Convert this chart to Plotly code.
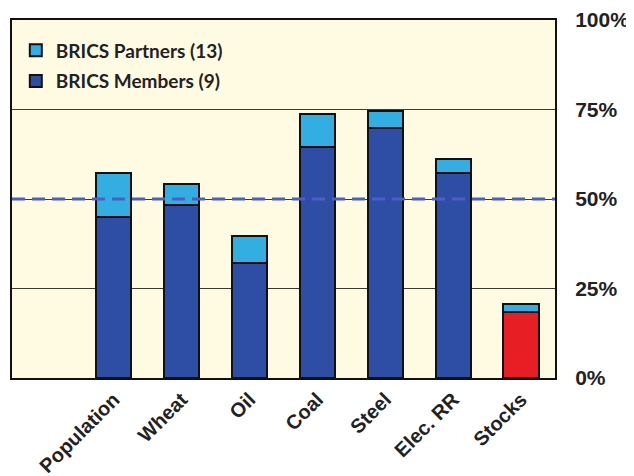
import plotly.graph_objects as go

categories = [" ", "Population", "Wheat", "Oil", "Coal", "Steel", "Elec. RR", "Stocks"]
members = [None, 45, 48.3, 32.2, 64.6, 69.7, 57.3, 18.4]
partners = [None, 12.2, 5.9, 7.5, 9.1, 4.9, 3.8, 2.3]
member_colors = ["#2E4EA6"] * 7 + ["#E81E25"]
tick_vals = [0, 25, 50, 75, 100]
tick_text = ["0%", "25%", "50%", "75%", "100%"]
reference_line = 50

fig = go.Figure()
fig.add_trace(go.Bar(
    x=categories, y=members, name="BRICS Members (9)",
    marker=dict(color=member_colors, line=dict(color="#111111", width=2)),
    legendgroup="m", legendrank=2,
))
fig.add_trace(go.Bar(
    x=categories, y=partners, name="BRICS Partners (13)",
    marker=dict(color="#33AEE3", line=dict(color="#111111", width=2)),
    legendgroup="p", legendrank=1,
))

fig.add_shape(type="line", xref="paper", x0=0, x1=1, yref="y",
              y0=reference_line, y1=reference_line,
              line=dict(color="#4C5FC6", width=3, dash="13px,7px"), layer="above")

# page body has an 8px margin, so the figure is sized to fit 634x476 window
fig.update_layout(
    width=626, height=468,
    margin=dict(l=4, r=79, t=12, b=98),
    barmode="stack", bargap=0.48,
    paper_bgcolor="white", plot_bgcolor="#FFFBE2",
    showlegend=True,
    legend=dict(x=0.007, y=0.968, xanchor="left", yanchor="top",
                bgcolor="rgba(0,0,0,0)", traceorder="grouped",
                tracegroupgap=3, itemwidth=30,
                font=dict(family="Lato", size=19, color="#222222", weight="bold")),
    xaxis=dict(showline=True, linecolor="#111111", linewidth=2, mirror=True,
               tickangle=-45, showgrid=False, automargin=False,
               tickfont=dict(family="Liberation Sans", size=20, color="#222222", weight="bold")),
    yaxis=dict(side="right", range=[0, 100], tickvals=tick_vals, ticktext=tick_text,
               showline=True, linecolor="#111111", linewidth=2, mirror=True,
               showgrid=True, gridcolor="#3a3a30", gridwidth=1, zeroline=False,
               ticklabelstandoff=14, automargin=False,
               tickfont=dict(family="Liberation Sans", size=21, color="#222222", weight="bold")),
)

fig.write_html("out.html")
